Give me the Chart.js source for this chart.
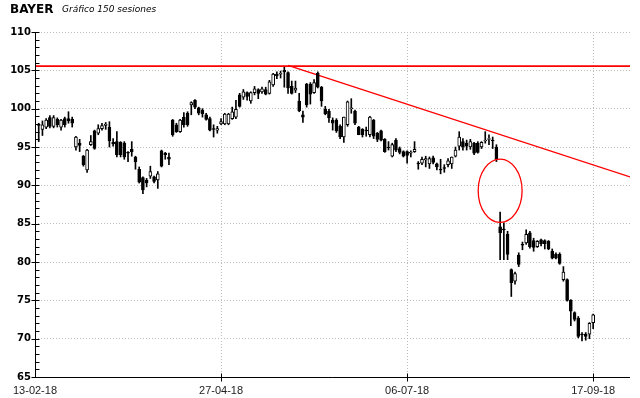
<!DOCTYPE html>
<html>
<head>
<meta charset="utf-8">
<script src="https://cdn.jsdelivr.net/npm/chart.js@4"></script>
<style>
    body { margin: 0; background: #fff; }
    #wrap { position: relative; width: 640px; height: 398px; }
    .name { position: absolute; left: 10px; top: 2px; font: bold 12px "DejaVu Sans", sans-serif; color: #000; }
    .sub { position: absolute; left: 62px; top: 4px; font: italic 9px "DejaVu Sans", sans-serif; color: #000; }
</style>
</head>
<body>
<div id="wrap">
    <canvas id="candles"></canvas>
    <span class="name">BAYER</span>
    <span class="sub">Gráfico 150 sesiones</span>
</div>
<script>
(function () {
    "use strict";

    // Sessions (index 0 = 13-02-18, index 149 = 17-09-18)
    const open = [98.0, 97.3, 97.6, 98.85, 97.7, 98.6, 97.6, 98.7, 98.7, 98.6,
        95.0, 95.5, 93.8, 92.0, 95.3, 97.1, 96.8, 97.4, 97.8, 97.6,
        95.6, 95.7, 95.6, 95.5, 94.3, 94.7, 93.7, 92.1, 91.0, 90.7,
        91.2, 91.1, 90.7, 94.5, 94.2, 93.7, 98.5, 97.9, 97.0, 98.9,
        99.4, 100.5, 101.1, 100.1, 99.8, 99.2, 98.7, 97.4, 97.2, 98.0,
        98.0, 98.0, 98.7, 98.9, 101.8, 101.5, 102.1, 101.0, 102.1, 102.5,
        102.2, 102.5, 102.0, 103.1, 104.5, 104.5, 105.0, 104.7, 102.9, 102.4,
        101.0, 99.2, 103.2, 103.2, 102.1, 104.6, 102.8, 99.9, 99.7, 98.5,
        98.5, 97.7, 96.3, 97.9, 100.0, 99.7, 97.6, 97.3, 97.2, 96.6,
        98.5, 96.8, 97.1, 96.0, 95.0, 93.8, 95.9, 94.8, 94.4, 94.4,
        94.2, 94.4, 92.9, 92.9, 93.3, 92.8, 93.6, 92.8, 92.1, 92.3,
        92.7, 92.8, 93.8, 95.1, 95.7, 95.5, 95.0, 95.5, 95.5, 95.0,
        95.8, 96.0, 95.9, 95.0, 84.6, 84.3, 83.6, 79.0, 77.5, 80.9,
        82.3, 82.5, 83.8, 82.8, 82.0, 82.9, 82.8, 82.7, 81.4, 81.0,
        81.0, 77.7, 77.7, 75.0, 73.4, 72.7, 70.6, 70.6, 70.6, 72.1];
    const high = [98.1, 98.4, 98.7, 99.1, 99.1, 98.8, 98.6, 98.9, 99.6, 98.9,
        96.4, 96.0, 93.9, 94.7, 96.5, 97.2, 97.9, 98.1, 98.2, 98.3,
        96.1, 97.0, 95.7, 95.7, 94.4, 95.7, 93.8, 92.4, 91.1, 90.9,
        92.5, 91.2, 91.8, 94.6, 94.3, 94.2, 98.6, 98.1, 98.6, 99.5,
        99.6, 100.9, 101.2, 100.2, 100.0, 99.4, 98.9, 97.9, 97.7, 98.7,
        99.4, 99.4, 100.2, 101.1, 102.0, 102.5, 102.2, 102.2, 102.9, 102.6,
        102.8, 102.8, 103.7, 104.6, 104.8, 104.9, 105.4, 104.8, 103.6, 103.6,
        102.0, 99.7, 103.3, 103.4, 103.8, 104.8, 102.9, 100.3, 99.9, 98.8,
        98.7, 97.9, 98.9, 101.0, 101.3, 99.8, 97.7, 97.4, 97.6, 99.0,
        98.6, 96.9, 97.2, 96.1, 95.7, 95.5, 96.1, 95.0, 94.5, 94.5,
        94.5, 95.7, 93.1, 93.7, 93.8, 93.7, 93.8, 92.9, 93.4, 92.7,
        93.5, 93.7, 95.0, 97.0, 96.1, 95.9, 96.0, 95.6, 95.7, 95.7,
        97.0, 96.6, 96.3, 95.3, 86.5, 85.1, 84.0, 79.1, 78.7, 81.2,
        82.6, 84.2, 84.0, 83.1, 82.8, 83.0, 82.9, 82.8, 81.7, 81.2,
        81.2, 79.4, 77.8, 75.1, 73.5, 72.9, 70.8, 70.8, 72.1, 73.2];
    const low = [95.7, 96.5, 97.4, 97.5, 97.5, 97.6, 97.2, 97.6, 98.1, 97.6,
        94.6, 94.4, 92.5, 91.7, 95.2, 94.7, 96.6, 97.2, 97.3, 95.0,
        95.1, 93.7, 93.7, 93.4, 93.1, 93.8, 92.1, 90.3, 88.9, 89.8,
        90.9, 90.3, 89.6, 92.4, 93.4, 92.7, 96.4, 96.9, 96.9, 97.6,
        97.7, 99.2, 100.0, 99.2, 98.9, 98.5, 97.1, 96.3, 96.8, 97.9,
        97.9, 97.9, 98.6, 98.7, 100.2, 101.2, 101.1, 100.7, 101.8, 101.3,
        102.0, 101.8, 101.9, 102.9, 103.9, 104.0, 102.8, 102.0, 101.9, 102.1,
        99.6, 98.2, 100.2, 100.6, 102.0, 102.7, 100.3, 99.2, 98.2, 97.2,
        96.9, 96.1, 95.6, 97.7, 99.4, 97.9, 96.6, 96.3, 96.4, 96.3,
        96.1, 95.7, 95.8, 94.3, 94.6, 93.7, 94.4, 94.1, 93.7, 92.9,
        93.7, 94.3, 92.1, 92.7, 92.4, 92.2, 92.8, 92.0, 91.5, 91.7,
        92.4, 92.2, 93.7, 94.6, 94.6, 94.6, 94.7, 94.0, 94.2, 94.8,
        95.5, 95.3, 94.8, 93.1, 80.3, 80.3, 80.3, 75.5, 77.1, 79.4,
        81.6, 82.3, 81.8, 81.4, 81.9, 82.1, 81.7, 81.6, 80.4, 80.4,
        79.7, 77.5, 74.9, 71.7, 72.3, 70.1, 69.7, 69.8, 70.0, 71.3];
    const close = [97.8, 97.9, 98.5, 97.7, 98.85, 97.9, 98.5, 97.9, 98.4, 98.1,
        96.3, 95.2, 92.7, 94.6, 95.7, 94.8, 97.4, 97.8, 98.0, 95.8,
        95.4, 94.0, 94.0, 93.7, 94.2, 94.4, 93.1, 90.4, 89.4, 90.3,
        91.8, 90.5, 91.5, 92.5, 94.0, 93.4, 96.6, 97.0, 98.5, 97.9,
        97.9, 100.8, 100.2, 99.4, 99.3, 98.6, 97.2, 97.3, 97.4, 98.3,
        99.3, 99.3, 99.6, 99.9, 100.3, 102.2, 101.6, 102.1, 102.6, 102.0,
        102.6, 101.9, 103.5, 104.5, 104.3, 104.6, 104.8, 102.7, 102.0, 102.7,
        99.7, 98.9, 100.5, 101.9, 103.4, 102.8, 101.0, 99.3, 98.8, 98.1,
        97.1, 96.3, 98.9, 100.9, 100.1, 98.1, 96.6, 96.6, 97.1, 98.9,
        96.4, 96.0, 95.9, 94.4, 94.9, 95.3, 94.6, 94.3, 93.8, 93.9,
        94.3, 94.7, 92.8, 93.4, 93.5, 93.5, 93.0, 92.4, 92.0, 92.2,
        93.2, 93.7, 94.6, 96.3, 95.0, 95.1, 95.7, 94.2, 94.3, 95.6,
        95.9, 96.1, 95.8, 93.3, 83.8, 84.2, 81.0, 77.3, 78.5, 79.7,
        82.2, 83.6, 82.0, 81.9, 82.7, 82.4, 82.4, 81.7, 80.5, 80.5,
        79.8, 78.7, 75.0, 73.6, 72.5, 70.3, 70.5, 70.3, 72.0, 73.1];

    // Axis ticks
    const xTickIdx = [-1, 49, 99, 149];
    const xTickLabels = ["13-02-18", "27-04-18", "06-07-18", "17-09-18"];
    const yMin = 65, yMax = 110, yStep = 5;
    const xMin = -1, xMax = 158.9;

    // Drawn annotations (in data units)
    const resistance = 105.55;
    const trendFrom = { x: 67, y: 105.65 };
    const trendTo = { x: 158.9, y: 91.1 };
    const gapCircle = { x: 124, y: 89.3, rx: 5.9, ry: 4.12 };

    const isUp = (i) => close[i] >= open[i];

    // axis lines, tick marks and the circled gap
    const extras = {
        id: "extras",
        afterDatasetsDraw(chart) {
            const { ctx, scales: { x, y } } = chart;
            const cx = x.getPixelForValue(gapCircle.x);
            const cy = y.getPixelForValue(gapCircle.y);
            const rx = Math.abs(x.getPixelForValue(gapCircle.x + gapCircle.rx) - cx);
            const ry = Math.abs(y.getPixelForValue(gapCircle.y + gapCircle.ry) - cy);
            ctx.save();
            ctx.strokeStyle = "#ff0000";
            ctx.lineWidth = 1.3;
            ctx.beginPath();
            ctx.ellipse(cx, cy, rx, ry, 0, 0, Math.PI * 2);
            ctx.stroke();
            ctx.restore();
        },
        afterDraw(chart) {
            const { ctx, chartArea: a, scales: { x, y } } = chart;
            const left = Math.round(a.left) + 0.5;
            const bottom = Math.round(a.bottom) + 0.5;
            ctx.save();
            ctx.strokeStyle = "#000";
            ctx.lineWidth = 1;
            ctx.beginPath();
            ctx.moveTo(left, a.top);
            ctx.lineTo(left, bottom);
            ctx.lineTo(a.right, bottom);
            for (let v = yMin; v <= yMax; v++) {
                const py = Math.round(y.getPixelForValue(v)) + 0.5;
                ctx.moveTo(v % yStep === 0 ? left - 4 : left, py);
                ctx.lineTo(left + 4, py);
            }
            xTickIdx.slice(1).forEach((v) => {
                const px = Math.round(x.getPixelForValue(v)) + 0.5;
                ctx.moveTo(px, bottom - 4);
                ctx.lineTo(px, bottom + 4);
            });
            ctx.stroke();
            ctx.restore();
        },
    };

    new Chart(document.getElementById("candles"), {
        type: "bar",
        data: {
            datasets: [
                {
                    label: "cuerpo",
                    order: 0,
                    grouped: false,
                    barThickness: 3,
                    borderWidth: 1,
                    borderSkipped: false,
                    borderColor: "#000",
                    backgroundColor: (c) => (isUp(c.dataIndex) ? "#fff" : "#000"),
                    data: open.map((o, i) => ({ x: i, y: [o, close[i]] })),
                },
                {
                    label: "mecha",
                    order: 1,
                    grouped: false,
                    barThickness: 1,
                    borderWidth: 0,
                    backgroundColor: "#000",
                    data: low.map((l, i) => ({ x: i, y: [l, high[i]] })),
                },
                {
                    type: "line",
                    label: "resistencia",
                    order: 2,
                    borderColor: "#ff0000",
                    borderWidth: 1.6,
                    pointRadius: 0,
                    data: [{ x: xMin, y: resistance }, { x: xMax, y: resistance }],
                },
                {
                    type: "line",
                    label: "tendencia",
                    order: 2,
                    borderColor: "#ff0000",
                    borderWidth: 1.4,
                    pointRadius: 0,
                    data: [trendFrom, trendTo],
                },
            ],
        },
        options: {
            responsive: true,
            maintainAspectRatio: false,
            devicePixelRatio: 1,
            animation: false,
            layout: { padding: { top: 32, right: 10, left: 0, bottom: 0 } },
            plugins: {
                legend: { display: false },
                tooltip: { enabled: false },
            },
            scales: {
                x: {
                    type: "linear",
                    min: xMin,
                    max: xMax,
                    offset: false,
                    afterBuildTicks: (scale) => {
                        scale.ticks = xTickIdx.map((v) => ({ value: v }));
                    },
                    afterFit: (scale) => {
                        scale.height = 21;
                    },
                    ticks: {
                        autoSkip: false,
                        maxRotation: 0,
                        padding: 7,
                        color: "#222",
                        font: { family: "Liberation Sans", size: 11 },
                        callback: (value, index) => xTickLabels[index],
                    },
                    grid: {
                        offset: false,
                        drawTicks: false,
                        color: (c) => (c.index === 0 ? "rgba(0,0,0,0)" : "#bcbcbc"),
                    },
                    border: { display: false, dash: [1, 2] },
                },
                y: {
                    min: yMin,
                    max: yMax,
                    afterFit: (scale) => {
                        scale.width = 35;
                    },
                    ticks: {
                        stepSize: yStep,
                        padding: 4,
                        color: "#000",
                        font: { family: "DejaVu Sans", size: 10, weight: "bold" },
                    },
                    grid: {
                        drawTicks: false,
                        color: "#bcbcbc",
                    },
                    border: { display: false, dash: [1, 2] },
                },
            },
        },
        plugins: [extras],
    });
})();
</script>
</body>
</html>
